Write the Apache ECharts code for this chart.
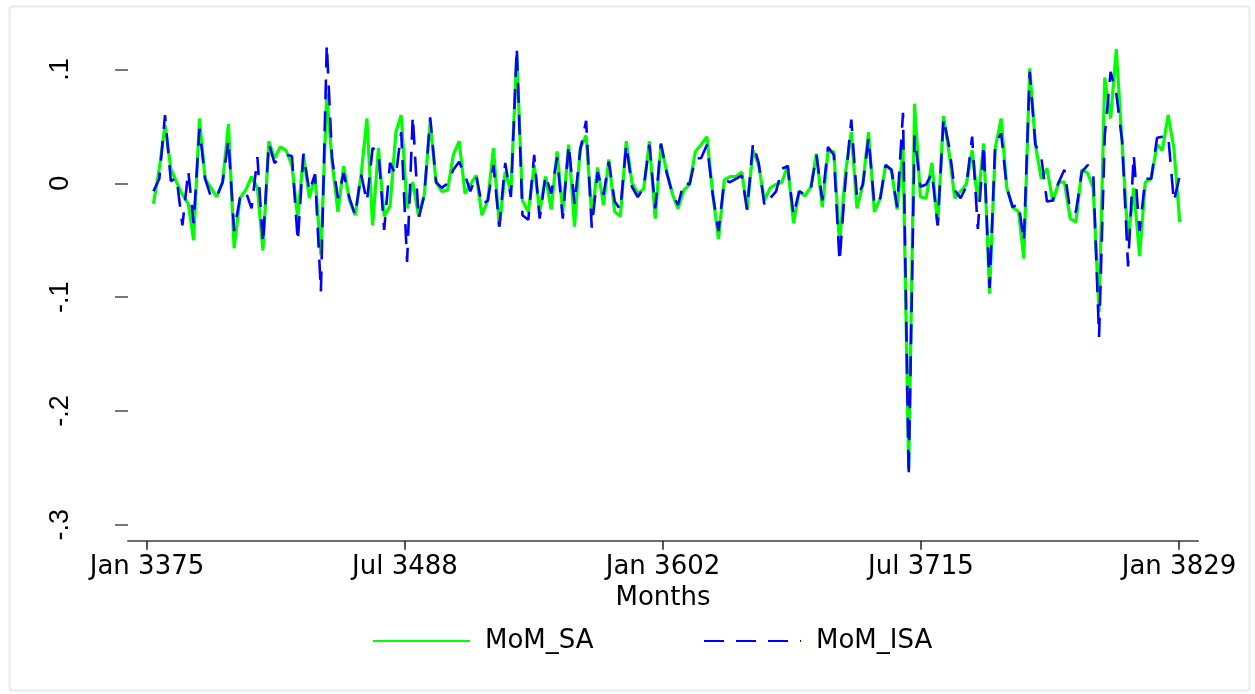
<!DOCTYPE html>
<html>
<head>
<meta charset="utf-8">
<script src="https://cdn.jsdelivr.net/npm/echarts@6/dist/echarts.min.js"></script>
<style>
html,body{margin:0;padding:0;background:#fff;}
#chart{width:1255px;height:694px;}
</style>
</head>
<body>
<div id="chart"></div>
<script>
// Monthly observations, first month Aug 2006 (x axis is in Stata date units)
const startYear = 2006, startMonth = 7, nMonths = 179;

const momSA = [
-0.018,0.013,0.051,0.013,0.001,-0.010,-0.018,-0.050,0.057,0.004,
-0.004,-0.012,0.001,0.052,-0.057,-0.013,-0.006,0.006,-0.004,-0.059,
0.037,0.022,0.032,0.029,0.016,-0.031,0.025,-0.013,0.007,-0.063,
0.079,0.019,-0.025,0.015,-0.015,-0.028,0.007,0.057,-0.037,0.031,
-0.029,-0.020,0.045,0.060,-0.022,0.001,-0.029,-0.010,0.054,0.001,
-0.007,-0.006,0.025,0.037,-0.009,-0.001,0.007,-0.028,-0.015,0.031,
-0.038,0.010,-0.007,0.113,-0.015,-0.025,0.016,-0.025,0.006,-0.023,
0.028,-0.025,0.034,-0.038,0.031,0.042,-0.029,0.014,-0.019,0.021,
-0.025,-0.029,0.037,0.001,-0.009,-0.005,0.037,-0.031,0.034,0.010,
-0.010,-0.022,-0.006,-0.001,0.028,0.034,0.041,-0.010,-0.049,0.003,
0.006,0.006,0.010,-0.023,0.029,0.016,-0.015,-0.004,-0.001,0.001,
0.016,-0.035,-0.007,-0.011,-0.003,0.026,-0.021,0.028,0.028,-0.053,
0.009,0.045,-0.022,-0.001,0.045,-0.025,-0.013,0.016,0.012,-0.023,
0.031,-0.250,0.070,-0.012,-0.013,0.018,-0.037,0.059,0.025,-0.013,
-0.007,-0.001,0.029,-0.016,0.035,-0.097,0.031,0.057,-0.004,-0.021,
-0.025,-0.066,0.101,0.034,0.004,0.013,-0.016,0.001,0.001,-0.031,
-0.034,0.012,0.009,-0.004,-0.113,0.093,0.057,0.118,0.034,-0.051,
-0.004,-0.064,0.001,0.004,0.034,0.029,0.060,0.031,-0.034
];

const momISA = [
-0.007,0.004,0.060,0.002,0.005,-0.037,0.011,-0.035,0.048,0.004,
-0.012,-0.012,0.001,0.038,-0.042,-0.013,-0.007,-0.022,0.023,-0.053,
0.035,0.018,0.022,0.025,0.024,-0.051,0.026,-0.007,0.008,-0.095,
0.122,0.022,-0.013,0.009,-0.013,-0.028,0.008,-0.016,0.031,0.028,
-0.041,0.018,0.007,0.045,-0.069,0.059,-0.031,-0.010,0.058,0.001,
-0.004,0.000,0.012,0.019,0.007,-0.007,0.007,-0.019,-0.015,0.016,
-0.038,0.018,-0.012,0.119,-0.028,-0.032,0.025,-0.031,0.007,-0.009,
0.023,-0.031,0.034,-0.018,0.029,0.055,-0.039,0.010,-0.010,0.019,
-0.016,-0.023,0.034,-0.003,-0.012,-0.004,0.034,-0.022,0.035,0.009,
-0.010,-0.019,0.001,-0.001,0.022,0.022,0.034,-0.010,-0.042,0.003,
0.001,0.004,0.007,-0.023,0.035,0.018,-0.020,-0.013,-0.007,0.013,
0.015,-0.028,-0.007,-0.010,-0.004,0.025,-0.015,0.032,0.025,-0.069,
0.001,0.056,-0.013,-0.001,0.040,-0.019,-0.013,0.016,0.012,-0.021,
0.062,-0.258,0.042,-0.003,-0.001,0.009,-0.037,0.057,0.031,-0.006,
-0.013,-0.003,0.041,-0.040,0.034,-0.092,0.035,0.044,-0.004,-0.021,
-0.018,-0.051,0.098,0.034,0.023,-0.016,-0.015,0.001,0.012,-0.025,
-0.025,0.010,0.016,0.010,-0.135,0.042,0.098,0.079,0.037,-0.073,
0.025,-0.042,0.004,0.004,0.040,0.041,0.042,-0.016,0.007
];

const xTickValues = [16980, 18342, 19704, 21066, 22428];
const xTickLabels = ['Jan 3375', 'Jul 3488', 'Jan 3602', 'Jul 3715', 'Jan 3829'];
const yTickValues = [-0.3, -0.2, -0.1, 0, 0.1];
const yTickLabels = ['-.3', '-.2', '-.1', '0', '.1'];

const epoch = Date.UTC(1960, 0, 1);
const monthX = [];
for (let i = 0; i < nMonths; i++) {
  monthX.push(Math.round((Date.UTC(startYear, startMonth + i, 1) - epoch) / 86400000));
}
const pairs = arr => arr.map((v, i) => [monthX[i], v]);

const chart = echarts.init(document.getElementById('chart'), null, {renderer: 'canvas', devicePixelRatio: 1});
const hFont = 'DejaVu Sans';
const legendCommon = {
  top: 628, padding: 0,
  itemWidth: 97, itemHeight: 25,
  itemStyle: {opacity: 0},
  textStyle: {fontFamily: hFont, fontSize: 26, color: '#000', padding: [0, 0, 0, 10]}
};
chart.setOption({
  animation: false,
  backgroundColor: '#ffffff',
  graphic: [{
    type: 'rect', left: 7, top: 4, silent: true,
    shape: {width: 1240, height: 684, r: 3},
    style: {fill: 'none', stroke: '#e4ebf1', lineWidth: 2}
  }],
  grid: {left: 128, right: 57, top: 35.4, bottom: 153.3, containLabel: false},
  legend: [
    Object.assign({left: 372, data: ['MoM_SA']}, legendCommon),
    Object.assign({left: 703, data: ['MoM_ISA']}, legendCommon)
  ],
  xAxis: {
    type: 'value',
    min: 16879.7, max: 22528.3,
    name: 'Months', nameLocation: 'middle', nameGap: 37,
    nameTextStyle: {fontFamily: hFont, fontSize: 26, color: '#000'},
    splitLine: {show: false},
    axisLine: {show: true, onZero: false, lineStyle: {color: '#6e6e6e', width: 2}},
    axisTick: {show: true, length: 9, lineStyle: {color: '#222', width: 1.5}, customValues: xTickValues},
    axisLabel: {
      fontFamily: hFont, fontSize: 26, color: '#000', margin: 14,
      customValues: xTickValues,
      formatter: v => { const i = xTickValues.indexOf(v); return i >= 0 ? xTickLabels[i] : ''; }
    }
  },
  yAxis: {
    type: 'value',
    min: -0.314, max: 0.13,
    splitLine: {show: false},
    axisLine: {show: false},
    axisTick: {show: true, length: 13, lineStyle: {color: '#777', width: 2}, customValues: yTickValues},
    axisLabel: {
      fontFamily: 'Liberation Sans', fontSize: 27, color: '#000', rotate: 90, margin: 54,
      customValues: yTickValues,
      formatter: v => { const i = yTickValues.findIndex(t => Math.abs(t - v) < 1e-9); return i >= 0 ? yTickLabels[i] : ''; }
    }
  },
  series: [
    {
      name: 'MoM_SA', type: 'line', symbol: 'none', data: pairs(momSA),
      lineStyle: {color: '#00ff00', width: 3.2}, itemStyle: {color: '#00ff00'}
    },
    {
      name: 'MoM_ISA', type: 'line', symbol: 'none', data: pairs(momISA),
      lineStyle: {color: '#0000ff', width: 2.6, type: [20, 12]}, itemStyle: {color: '#0000ff'}
    }
  ]
});
</script>
</body>
</html>
